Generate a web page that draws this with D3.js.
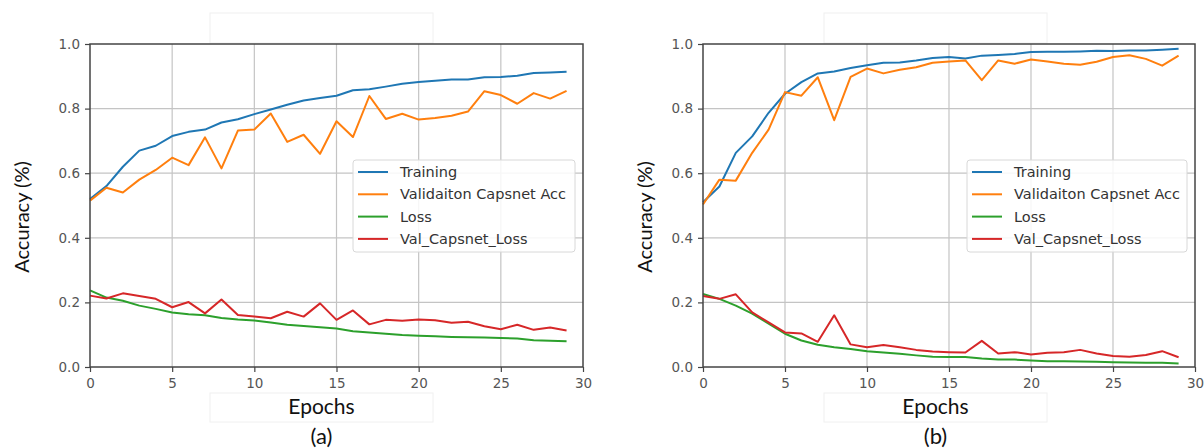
<!DOCTYPE html>
<html>
<head>
<meta charset="utf-8">
<script src="https://cdn.jsdelivr.net/npm/d3@7"></script>
<style>
  body { margin: 0; background: #fff; }
  svg { display: block; }
  .tick text { font-family: "DejaVu Sans", sans-serif; font-size: 13.5px; fill: #555; }
</style>
</head>
<body>
<svg id="chart" width="1204" height="448"></svg>
<script>
// epochs 0..29
const epochs = d3.range(0, 30);
const seriesNames = ["Training", "Validaiton Capsnet Acc", "Loss", "Val_Capsnet_Loss"];
const colors = ["#1f77b4", "#ff7f0e", "#2ca02c", "#d62728"];
const xTicks = [0, 5, 10, 15, 20, 25, 30];
const yTicks = [0.0, 0.2, 0.4, 0.6, 0.8, 1.0];

// panel (a)
const trainA = [0.52, 0.56, 0.62, 0.67, 0.685, 0.715, 0.728, 0.735, 0.757, 0.767, 0.783, 0.797, 0.812, 0.825, 0.833,
                0.840, 0.857, 0.860, 0.868, 0.877, 0.882, 0.886, 0.890, 0.890, 0.897, 0.898, 0.902, 0.910, 0.912, 0.914];
const valAccA = [0.515, 0.555, 0.54, 0.58, 0.61, 0.648, 0.625, 0.711, 0.615, 0.732, 0.735, 0.785, 0.697, 0.719, 0.66,
                 0.761, 0.712, 0.839, 0.768, 0.784, 0.766, 0.771, 0.778, 0.791, 0.854, 0.842, 0.815, 0.848, 0.831, 0.855];
const lossA = [0.237, 0.215, 0.205, 0.19, 0.18, 0.169, 0.163, 0.16, 0.152, 0.147, 0.144, 0.138, 0.131, 0.127, 0.123,
               0.119, 0.111, 0.107, 0.103, 0.099, 0.097, 0.095, 0.093, 0.092, 0.091, 0.090, 0.088, 0.083, 0.081, 0.080];
const valLossA = [0.221, 0.212, 0.228, 0.22, 0.211, 0.185, 0.201, 0.166, 0.209, 0.161, 0.156, 0.151, 0.171, 0.156, 0.197,
                  0.146, 0.175, 0.132, 0.146, 0.143, 0.147, 0.145, 0.137, 0.140, 0.126, 0.117, 0.131, 0.115, 0.122, 0.113];

// panel (b)
const trainB = [0.51, 0.559, 0.663, 0.714, 0.787, 0.846, 0.882, 0.909, 0.915, 0.926, 0.934, 0.942, 0.943, 0.949, 0.957,
                0.960, 0.955, 0.964, 0.966, 0.969, 0.975, 0.976, 0.976, 0.977, 0.979, 0.978, 0.980, 0.980, 0.982, 0.985];
const valAccB = [0.503, 0.58, 0.577, 0.663, 0.735, 0.851, 0.840, 0.897, 0.764, 0.898, 0.924, 0.909, 0.920, 0.928, 0.942,
                 0.946, 0.949, 0.888, 0.949, 0.939, 0.952, 0.946, 0.939, 0.936, 0.945, 0.960, 0.965, 0.954, 0.933, 0.964];
const lossB = [0.226, 0.211, 0.190, 0.165, 0.134, 0.103, 0.082, 0.069, 0.061, 0.056, 0.049, 0.045, 0.041, 0.036, 0.032,
               0.031, 0.031, 0.026, 0.023, 0.023, 0.020, 0.018, 0.018, 0.017, 0.016, 0.015, 0.014, 0.013, 0.013, 0.011];
const valLossB = [0.22, 0.211, 0.225, 0.169, 0.138, 0.107, 0.104, 0.078, 0.160, 0.070, 0.061, 0.068, 0.061, 0.053, 0.048,
                  0.046, 0.045, 0.081, 0.042, 0.046, 0.039, 0.044, 0.046, 0.053, 0.042, 0.034, 0.032, 0.037, 0.049, 0.030];

const svg = d3.select("#chart");

function drawPanel(opt, series, tag) {
  const g = svg.append("g");
  const x = d3.scaleLinear().domain([0, 30]).range([opt.left, opt.right]);
  const y = d3.scaleLinear().domain([0, 1]).range([367, 44]);

  // faint boxes behind title / x label
  g.append("rect").attr("x", opt.boxX).attr("y", 13).attr("width", 223).attr("height", 30)
    .attr("fill", "#fff").attr("stroke", "#f0f0f0");
  g.append("rect").attr("x", opt.boxX).attr("y", 393).attr("width", 223).attr("height", 29)
    .attr("fill", "#fff").attr("stroke", "#f0f0f0");

  // grid
  g.selectAll(".gx").data(xTicks.slice(1, -1)).enter().append("line")
    .attr("x1", d => x(d)).attr("x2", d => x(d)).attr("y1", y(0)).attr("y2", y(1))
    .attr("stroke", "#c4c4c4").attr("stroke-width", 1.2);
  g.selectAll(".gy").data(yTicks.slice(1, -1)).enter().append("line")
    .attr("x1", x(0)).attr("x2", x(30)).attr("y1", d => y(d)).attr("y2", d => y(d))
    .attr("stroke", "#c4c4c4").attr("stroke-width", 1.2);

  // lines
  const line = d3.line().x((d, i) => x(epochs[i])).y(d => y(d));
  series.forEach((s, k) => {
    g.append("path").datum(s).attr("d", line)
      .attr("fill", "none").attr("stroke", colors[k]).attr("stroke-width", 2)
      .attr("stroke-linejoin", "round");
  });

  // frame
  g.append("rect").attr("x", x(0)).attr("y", y(1)).attr("width", x(30) - x(0)).attr("height", y(0) - y(1))
    .attr("fill", "none").attr("stroke", "#444").attr("stroke-width", 1.5);

  // axes
  const ax = g.append("g").attr("transform", `translate(0,${y(0)})`)
    .call(d3.axisBottom(x).tickValues(xTicks).tickFormat(d3.format("d")).tickSize(5).tickPadding(6));
  const ay = g.append("g").attr("transform", `translate(${x(0)},0)`)
    .call(d3.axisLeft(y).tickValues(yTicks).tickFormat(d3.format(".1f")).tickSize(5).tickPadding(5));
  [ax, ay].forEach(a => {
    a.select(".domain").remove();
    a.selectAll(".tick line").attr("stroke", "#444").attr("stroke-width", 1.2);
  });

  // legend
  const lg = g.append("g").attr("transform", `translate(${opt.legX},160)`);
  lg.append("rect").attr("width", opt.legW).attr("height", 92).attr("rx", 3)
    .attr("fill", "#fff").attr("fill-opacity", 0.85).attr("stroke", "#d8d8d8");
  seriesNames.forEach((n, k) => {
    const yy = 12 + k * 22.3;
    lg.append("line").attr("x1", 5).attr("x2", 35).attr("y1", yy).attr("y2", yy)
      .attr("stroke", colors[k]).attr("stroke-width", 2);
    lg.append("text").attr("x", 47).attr("y", yy).attr("dy", "0.35em")
      .attr("font-family", "DejaVu Sans, sans-serif").attr("font-size", 14.5).attr("fill", "#333")
      .text(n);
  });

  // axis titles
  g.append("text").attr("transform", `translate(${opt.yLabX},217) rotate(-90)`)
    .attr("text-anchor", "middle").attr("dy", "0.35em")
    .attr("font-family", "Lato, sans-serif").attr("font-size", 20).attr("fill", "#111")
    .text("Accuracy (%)");
  g.append("text").attr("x", opt.boxX + 111.5).attr("y", 414)
    .attr("text-anchor", "middle")
    .attr("font-family", "Lato, sans-serif").attr("font-size", 21).attr("fill", "#111")
    .text("Epochs");
  g.append("text").attr("x", opt.boxX + 111.5).attr("y", 444)
    .attr("text-anchor", "middle")
    .attr("font-family", "Lato, sans-serif").attr("font-size", 22).attr("fill", "#111")
    .text(tag);
}

drawPanel({ left: 90, right: 583, boxX: 210, legX: 353, legW: 222, yLabX: 22 },
          [trainA, valAccA, lossA, valLossA], "(a)");
drawPanel({ left: 703, right: 1195, boxX: 824, legX: 967, legW: 220, yLabX: 645 },
          [trainB, valAccB, lossB, valLossB], "(b)");
</script>
</body>
</html>
